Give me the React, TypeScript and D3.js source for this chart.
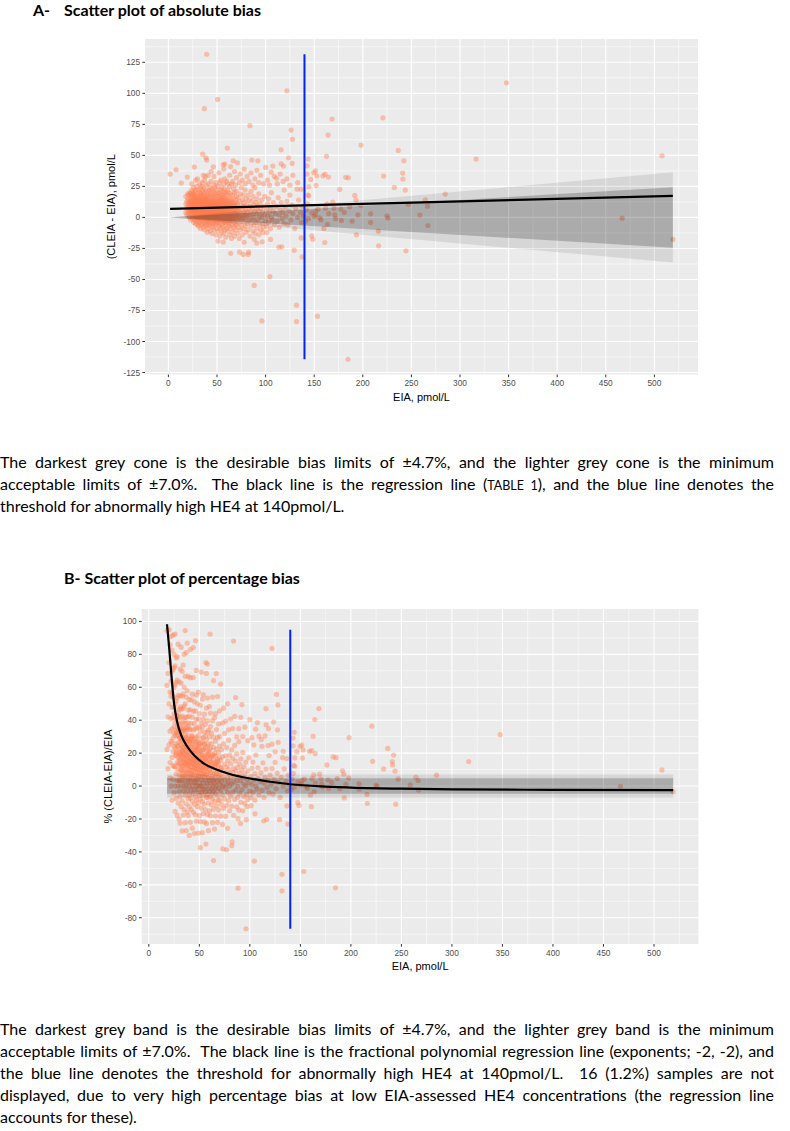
import React, { useLayoutEffect, useRef, useState } from "react";
import * as d3 from "d3";

// samples as [EIA pmol/L, CLEIA - EIA pmol/L]
// the dense cloud at low concentrations
const clusterSamples: [number, number][] = [
  [18, 4], [18, 11], [18, 17], [19, 8], [19, 13], [19, 2], [20, 10], [20, 15], [20, 5], [20, 19], [21, 7], [21, 12],
  [21, 3], [21, 18], [22, 0], [22, 6], [22, 9], [22, 14], [22, 20], [23, -2], [23, 4], [23, 8], [23, 11], [23, 16],
  [23, 19], [24, 1], [24, 5], [24, 7], [24, 10], [24, 13], [24, 17], [24, 22], [25, -1], [25, 3], [25, 6], [25, 9],
  [25, 12], [25, 15], [25, 18], [25, 20], [21, 1], [22, 12], [23, 13], [24, 3], [25, 8], [25, 11], [23, 6],
  [26, -4], [26, 0], [26, 3], [26, 6], [26, 8], [26, 10], [26, 13], [26, 16], [26, 19], [26, 24],
  [27, -2], [27, 2], [27, 5], [27, 7], [27, 9], [27, 11], [27, 14], [27, 17], [27, 21], [27, 5.5],
  [28, -5], [28, 1], [28, 4], [28, 6], [28, 8.5], [28, 10], [28, 12], [28, 15], [28, 18], [28, 22],
  [29, -3], [29, 0], [29, 3], [29, 5], [29, 7], [29, 9], [29, 11], [29, 13], [29, 16], [29, 25],
  [30, -6], [30, -1], [30, 2], [30, 4], [30, 6], [30, 8], [30, 10], [30, 12], [30, 14], [30, 19],
  [31, -7], [31, -2], [31, 1], [31, 3], [31, 5], [31, 7], [31, 9], [31, 11], [31, 13], [31, 17], [31, 22], [31, 6],
  [32, -4], [32, 0], [32, 2], [32, 4], [32, 6], [32, 8], [32, 10], [32, 12], [32, 15], [32, 20], [32, 27], [32, 9],
  [33, -9], [33, -3], [33, 1], [33, 3], [33, 5], [33, 7], [33, 9], [33, 11], [33, 14], [33, 18], [33, 23], [33, 4],
  [34, -6], [34, -1], [34, 2], [34, 4], [34, 6], [34, 8], [34, 10], [34, 13], [34, 16], [34, 19], [34, 25], [34, 7],
  [35, -5], [35, 0], [35, 3], [35, 5], [35, 7], [35, 9], [35, 12], [35, 14], [35, 17], [35, 21], [35, 28], [35, 10],
  [36, -8], [36, -2], [36, 1], [36, 4], [36, 6], [36, 8], [36, 10], [36, 12], [36, 15], [36, 18], [36, 24], [36, 5],
  [37, -10], [37, -4], [37, 0], [37, 3], [37, 5], [37, 7], [37, 9], [37, 11], [37, 14], [37, 20], [37, 30], [37, 8],
  [38, -6], [38, -1], [38, 2], [38, 4], [38, 6], [38, 9], [38, 11], [38, 13], [38, 16], [38, 22], [38, 33], [38, 7],
  [39, -7], [39, -3], [39, 1], [39, 3], [39, 5], [39, 8], [39, 10], [39, 12], [39, 15], [39, 18], [39, 26], [39, 6],
  [40, -12], [40, -5], [40, 0], [40, 2], [40, 4], [40, 6], [40, 9], [40, 11], [40, 14], [40, 17], [40, 21], [40, 8],
  [41, -9], [41, -3], [41, 1], [41, 4], [41, 6], [41, 8], [41, 11], [41, 14], [41, 19], [41, 27], [41, 7],
  [42, -6], [42, -1], [42, 2], [42, 5], [42, 7], [42, 10], [42, 12], [42, 16], [42, 22], [42, 3], [42, 9],
  [43, -11], [43, -4], [43, 0], [43, 3], [43, 6], [43, 8], [43, 11], [43, 13], [43, 18], [43, 24], [43, 5],
  [44, -7], [44, -2], [44, 2], [44, 4], [44, 7], [44, 9], [44, 12], [44, 15], [44, 20], [44, 29], [44, 6],
  [45, -13], [45, -5], [45, -1], [45, 3], [45, 5], [45, 8], [45, 10], [45, 13], [45, 17], [45, 23], [45, 7],
  [46, -8], [46, -3], [46, 1], [46, 4], [46, 7], [46, 9], [46, 12], [46, 16], [46, 21], [46, 6],
  [47, -10], [47, -4], [47, 0], [47, 3], [47, 5], [47, 8], [47, 11], [47, 14], [47, 19], [47, 26],
  [48, -6], [48, -1], [48, 2], [48, 5], [48, 7], [48, 10], [48, 13], [48, 17], [48, 24], [48, 4],
  [49, -14], [49, -5], [49, 0], [49, 3], [49, 6], [49, 9], [49, 12], [49, 15], [49, 20], [49, 8],
  [50, -9], [50, -3], [50, 1], [50, 4], [50, 7], [50, 10], [50, 13], [50, 18], [50, 22], [50, 5],
  [51, -11], [51, -4], [51, 0], [51, 3], [51, 6], [51, 9], [51, 13], [51, 17], [51, 25],
  [52, -7], [52, -2], [52, 2], [52, 5], [52, 8], [52, 11], [52, 15], [52, 20], [52, 7],
  [53, -15], [53, -5], [53, -1], [53, 3], [53, 6], [53, 10], [53, 14], [53, 19], [53, 28],
  [54, -9], [54, -3], [54, 1], [54, 4], [54, 8], [54, 12], [54, 16], [54, 22], [54, 6],
  [55, -12], [55, -6], [55, -1], [55, 3], [55, 7], [55, 10], [55, 14], [55, 18], [55, 24],
  [56, -8], [56, -2], [56, 2], [56, 6], [56, 9], [56, 13], [56, 17], [56, 21],
  [57, -13], [57, -4], [57, 0], [57, 4], [57, 8], [57, 12], [57, 16], [57, 27],
  [58, -10], [58, -3], [58, 1], [58, 5], [58, 9], [58, 14], [58, 19], [58, 23],
  [59, -16], [59, -6], [59, -1], [59, 3], [59, 7], [59, 11], [59, 15], [59, 20],
  [60, -9], [60, -2], [60, 2], [60, 6], [60, 10], [60, 13], [60, 18], [60, 29],
  [61, -11], [61, -4], [61, 1], [61, 5], [61, 9], [61, 14], [61, 22],
  [62, -7], [62, -1], [62, 3], [62, 7], [62, 11], [62, 16], [62, 20],
  [63, -14], [63, -5], [63, 0], [63, 4], [63, 8], [63, 12], [63, 25],
  [64, -9], [64, -2], [64, 2], [64, 6], [64, 10], [64, 15], [64, 19],
  [65, -17], [65, -6], [65, 1], [65, 5], [65, 9], [65, 13], [65, 27],
  [66, -12], [66, -3], [66, 3], [66, 8], [66, 12], [66, 18],
  [67, -8], [67, 0], [67, 5], [67, 10], [67, 15], [67, 23],
  [68, -15], [68, -4], [68, 2], [68, 7], [68, 11], [68, 20],
  [69, -10], [69, -1], [69, 4], [69, 9], [69, 14], [69, 26],
  [70, -6], [70, 1], [70, 6], [70, 12], [70, 17], [70, 21],
  [71, -13], [71, -2], [71, 5], [71, 11], [72, -8], [72, 2], [72, 8], [72, 16], [73, -17], [73, -4], [73, 4], [73, 13],
  [74, -10], [74, 0], [74, 7], [74, 19], [75, -6], [75, 3], [75, 10], [75, 24], [76, -14], [76, -1], [76, 6], [76, 14],
  [77, -9], [77, 1], [77, 9], [77, 18], [78, -20], [78, -3], [78, 4], [78, 12], [79, -7], [79, 2], [79, 8], [79, 22],
  [80, -12], [80, 0], [80, 6], [80, 15],
  [81, -5], [81, 4], [81, 11], [82, -10], [82, 1], [82, 18], [83, -3], [83, 7], [83, 14], [84, -15], [84, 2], [84, 9],
  [85, -7], [85, 5], [85, 21], [86, -2], [86, 8], [86, 13], [87, -11], [87, 3], [87, 17], [88, -6], [88, 0], [88, 10],
  [89, -13], [89, 5], [89, 24], [90, -4], [90, 7], [90, 12],
  [91, -9], [91, 3], [91, 15], [92, -2], [92, 9], [93, -14], [93, 5], [93, 19], [94, -6], [94, 1], [94, 11],
  [95, -10], [95, 7], [96, 0], [96, 14], [97, -5], [97, 4], [98, -8], [98, 9], [99, 2], [99, 17], [100, -3],
  [101, 6], [101, -7], [102, 11], [102, 1], [103, -4], [103, 15], [104, 4], [105, -9], [105, 8], [106, 20], [106, 0],
  [107, -2], [108, 12], [108, 5], [109, -6], [110, 3],
  [111, 9], [112, -3], [113, 16], [114, 2], [114, -8], [115, 6], [116, 12], [117, -1], [118, 4], [119, 22], [119, -5], [120, 8],
  [121, 1], [122, 13], [123, -6], [124, 5], [125, 18], [126, -2], [127, 10], [128, 3], [130, -9], [131, 7], [133, 0], [134, 14],
  [136, 4], [137, -4], [138, 9], [139, 1], [141, -3], [142, 6], [143, 11], [144, -1],
  [150, 1], [157, -2], [165, 3], [172, -1], [181, 4], [189, -3], [195, 2],
];

// the densest core of the cloud
const coreSamples: [number, number][] = [
  [28.5, 7], [29.5, 4], [30.5, 9], [31.5, 6], [32.5, 3], [33.5, 8], [34.5, 5], [35.5, 11], [36.5, 7], [37.5, 3],
  [38.5, 9], [39.5, 5], [40.5, 7], [41.5, 10], [42.5, 4], [43.5, 7], [44.5, 9], [45.5, 5], [46.5, 8], [47.5, 6],
  [48.5, 11], [49.5, 3], [50.5, 8], [51.5, 5], [52.5, 10], [53.5, 7], [54.5, 4], [55.5, 9], [56.5, 6], [57.5, 11],
  [58.5, 3], [59.5, 8], [29.2, 10], [30.7, 5], [32.2, 11], [33.7, 2], [35.2, 6], [36.7, 13], [38.2, 5], [39.7, 11],
  [41.2, 3], [42.7, 13], [44.2, 6], [45.7, 11], [47.2, 2], [48.7, 7], [50.2, 12], [51.7, 4], [53.2, 9], [54.7, 14],
  [56.2, 4], [57.7, 7], [59.2, 12], [60.7, 5], [62.2, 9], [63.7, 3], [65.2, 8], [66.7, 5], [68.2, 10], [69.7, 3],
  [71.2, 8], [72.7, 0], [26.5, 5], [27.5, 9], [28.2, 12], [29.8, 1], [31.2, 15], [32.8, 7], [34.2, 12], [35.8, 2],
  [37.2, 10], [38.8, 14], [40.2, -2], [41.8, 12], [43.2, 9], [44.8, 1], [46.2, 10], [47.8, 13], [49.2, -2],
  [50.8, 11], [52.2, 0], [53.8, 12], [55.2, 5], [56.8, 10], [58.2, -4], [59.8, 7], [61.2, 11], [62.8, -3],
  [64.2, 12], [65.8, -1], [67.2, 9], [68.8, -6],
];

// the sparser upper layer of the cloud
const upperSamples: [number, number][] = [
  [47, 33], [49, 28], [52, 36], [54, 30], [57, 39], [58, 31], [61, 27], [63, 34], [64, 41], [66, 29], [68, 37],
  [70, 32], [71, 44], [73, 28], [74, 35], [76, 30], [78, 39], [79, 27], [81, 33], [83, 29], [85, 36], [87, 26],
  [89, 31], [91, 38], [93, 28], [95, 34], [98, 27], [102, 30], [104, 26], [109, 33], [112, 27], [115, 35],
  [118, 29], [122, 31], [125, 26], [128, 34], [133, 28], [58, 43], [44, 37], [41, 34], [36, 34], [30, 31],
  [28, 30], [24, 27],
];

// isolated points
const outlierSamples: [number, number][] = [
  [1.8, 34.9], [7.9, 38.4], [13.3, 27.7], [19.5, 32.5], [26.7, 40.6], [35.3, 51], [37, 87.6], [38.7, 48.1],
  [39.4, 131.5], [39.4, 46.2], [46.2, 40.8], [50.7, 95.1], [56.5, 42.4], [60.6, 55.9], [66.7, 45.6], [83.9, 73.9],
  [85.9, 46.2], [92.1, 45.6], [100, 40.3], [105.7, 36.5], [107.5, 41.4], [111.3, 31.5], [116, 54.5], [116, 43.2],
  [118.5, 41.4], [121.9, 102], [123.6, 48.1], [126.3, 70.4], [127.3, 43.5], [127.7, 62.9], [132.4, 22.8],
  [136.6, 22.8], [142.7, 41.6], [142.7, 34.9], [143.4, 18], [143.8, 47], [144.5, 24.7], [144.5, 17.4],
  [146.5, 30.6], [149.6, 36], [151.3, 37.6], [152, 25.8], [152.7, 33.5], [159.1, 33.5], [161.2, 34.7],
  [162.6, 49.2], [164.3, 66.4], [164.7, 32.5], [168.4, 79.3], [163.2, 11], [169.1, 12.3], [170.4, 7.3],
  [176.3, 22.6], [177.3, 6.7], [182.4, 32.3], [185.2, 31.9], [186.5, 8.5], [191.7, 17.7], [193, 14], [197.8, 9.7],
  [198.2, 58.3], [208.1, 2.9], [220.7, 80.3], [221.5, 33.3], [224.8, 1.3], [232.4, 24.2], [236.5, 54], [241, 35.7],
  [241.3, 30.9], [242.3, 45.6], [243.7, 22], [246.8, 10.7], [258.7, 1.9], [264.3, 14.2], [266.6, 9.1],
  [284.8, 18.8], [316.6, 47], [347.8, 108.5], [466.8, -0.6], [507.9, 49.7], [519, -17.7],
  [51, -19.1], [56.5, -19.9], [64.1, -29], [73.3, -28], [77, -29.8], [82.1, -29.8], [82.5, -28], [88.3, -17.5],
  [90.8, -20.7], [96.5, -19.7], [97.2, -12.1], [101.3, -12.1], [104.4, -47.6], [88.3, -54.8], [96.2, -83.4],
  [131.8, -70.7], [131.8, -83.9], [153.4, -79.6], [184.8, -114.3], [129.4, -26.4], [113.7, -24], [116.7, -23.7],
  [105.1, -17.7], [137.6, -31.8], [136.6, -16.5], [147.5, -14.8], [148.6, -17.5], [160.9, -20.2], [193.4, -14],
  [216.3, -22.9], [216, -11.1], [208.1, -4], [163.7, -5.6], [178, -2.4], [151.3, 2.1], [225.9, -0.5],
  [266.9, -6.5], [244.4, -26.9], [159.9, -8.9], [155.7, -0.3], [171.1, 2.1], [147.5, 3.7], [151.6, 5.3],
  [154, 6.5], [161.6, 7.3],
];

// fitted lines
const absoluteFit: [number, number][] = [[1.8, 6.9], [519, 17.4]];
const percentFit: [number, number][] = [
  [18, 98.3], [20, 85], [22, 70], [25, 50], [28, 39], [32, 31], [38, 24], [45, 18.5], [55, 13.5], [65, 10.5],
  [80, 7.3], [100, 4.6], [120, 2.6], [140, 1.1], [170, -0.2], [200, -0.9], [250, -1.6], [300, -2], [400, -2.3], [519, -2.5],
];

const desirableLimit = 4.7; // %
const acceptableLimit = 7.0; // %
const highThreshold = 140; // pmol/L

const xTicks = [0, 50, 100, 150, 200, 250, 300, 350, 400, 450, 500];
const absYTicks = [-125, -100, -75, -50, -25, 0, 25, 50, 75, 100, 125];
const pctYTicks = [-80, -60, -40, -20, 0, 20, 40, 60, 80, 100];

const allSamples = [...clusterSamples, ...coreSamples, ...upperSamples, ...outlierSamples];
const percentSamples: [number, number][] = allSamples
  .map(([e, d]) => [e, (d / e) * 100] as [number, number])
  .filter(([e, p]) => e >= 18 && p <= 100);

const AXIS_FONT = "'Liberation Sans', Arial, sans-serif";
const TEXT_FONT = "Lato, 'Open Sans', sans-serif";

const expand = ([a, b]: [number, number]): [number, number] => {
  const pad = (b - a) * 0.05;
  return [a - pad, b + pad];
};

const minorBreaks = (ticks: number[], dom: [number, number]) => {
  const step = ticks[1] - ticks[0];
  const out: number[] = [];
  for (let i = -1; i < ticks.length; i++) {
    const v = ticks[0] + step * (i + 0.5);
    if (v >= dom[0] && v <= dom[1]) out.push(v);
  }
  return out;
};

type Box = { left: number; right: number; top: number; bottom: number };

function Panel({ box, points, fit, yTicks, yLabel, shape, smooth }: {
  box: Box; points: [number, number][]; fit: [number, number][]; yTicks: number[];
  yLabel: string; shape: "cone" | "band"; smooth: boolean;
}) {
  const xExt = d3.extent(points, (d) => d[0]) as [number, number];
  const yExt = d3.extent([...points, ...fit], (d) => d[1]) as [number, number];
  const ptExt = d3.extent(points, (d) => d[1]) as [number, number];
  const xDom = expand(xExt);
  const yDom = expand(yExt);
  const x = d3.scaleLinear().domain(xDom).range([box.left, box.right]);
  const y = d3.scaleLinear().domain(yDom).range([box.bottom, box.top]);

  const [x0, x1] = xExt;
  const limitPoly = (p: number): [number, number][] =>
    shape === "cone"
      ? [[x0, (x0 * p) / 100], [x1, (x1 * p) / 100], [x1, (-x1 * p) / 100], [x0, (-x0 * p) / 100]]
      : [[x0, p], [x1, p], [x1, -p], [x0, -p]];
  const poly = (pts: [number, number][]) =>
    pts.map(([a, b]) => `${x(a)},${y(b)}`).join(" ");

  const line = d3
    .line<[number, number]>()
    .x((d) => x(d[0]))
    .y((d) => y(d[1]))
    .curve(smooth ? d3.curveMonotoneX : d3.curveLinear);

  const cx = (box.left + box.right) / 2;
  const cy = (box.top + box.bottom) / 2;

  return (
    <g>
      <rect x={box.left} y={box.top} width={box.right - box.left} height={box.bottom - box.top} fill="#EBEBEB" />
      {minorBreaks(xTicks, xDom).map((v) => (
        <line key={"mx" + v} x1={x(v)} x2={x(v)} y1={box.top} y2={box.bottom} stroke="#fff" strokeWidth={0.55} />
      ))}
      {minorBreaks(yTicks, yDom).map((v) => (
        <line key={"my" + v} x1={box.left} x2={box.right} y1={y(v)} y2={y(v)} stroke="#fff" strokeWidth={0.55} />
      ))}
      {xTicks.map((v) => (
        <line key={"gx" + v} x1={x(v)} x2={x(v)} y1={box.top} y2={box.bottom} stroke="#fff" strokeWidth={1.1} />
      ))}
      {yTicks.map((v) => (
        <line key={"gy" + v} x1={box.left} x2={box.right} y1={y(v)} y2={y(v)} stroke="#fff" strokeWidth={1.1} />
      ))}

      {points.map((d, i) => (
        <circle key={i} cx={x(d[0])} cy={y(d[1])} r={2.6} fill="#FF7F50" fillOpacity={0.42} />
      ))}

      <polygon points={poly(limitPoly(acceptableLimit))} fill="#000" fillOpacity={0.085} />
      <polygon points={poly(limitPoly(desirableLimit))} fill="#000" fillOpacity={0.2} />

      <line x1={x(highThreshold)} x2={x(highThreshold)} y1={y(ptExt[0])} y2={y(ptExt[1])} stroke="#0022FF" strokeWidth={2} />
      <path d={line(fit) ?? ""} fill="none" stroke="#000" strokeWidth={2.2} />

      {xTicks.map((v) => (
        <g key={"tx" + v}>
          <line x1={x(v)} x2={x(v)} y1={box.bottom} y2={box.bottom + 2.7} stroke="#333" strokeWidth={1} />
          <text x={x(v)} y={box.bottom + 11.5} textAnchor="middle" fontSize={8.3} fill="#4D4D4D" fontFamily={AXIS_FONT}>
            {v}
          </text>
        </g>
      ))}
      {yTicks.map((v) => (
        <g key={"ty" + v}>
          <line x1={box.left - 2.7} x2={box.left} y1={y(v)} y2={y(v)} stroke="#333" strokeWidth={1} />
          <text x={box.left - 5} y={y(v) + 3} textAnchor="end" fontSize={8.3} fill="#4D4D4D" fontFamily={AXIS_FONT}>
            {v}
          </text>
        </g>
      ))}
      <text x={cx} y={box.bottom + 26} textAnchor="middle" fontSize={11} fontFamily={AXIS_FONT} fill="#000">
        EIA, pmol/L
      </text>
      <text transform={`translate(${box.left - 30},${cy}) rotate(-90)`} textAnchor="middle" fontSize={11} fontFamily={AXIS_FONT} fill="#000">
        {yLabel}
      </text>
    </g>
  );
}

function TextLine({ x, y, width, justify, children }: {
  x: number; y: number; width: number; justify: boolean; children: React.ReactNode;
}) {
  const ref = useRef<SVGTextElement>(null);
  const [spacing, setSpacing] = useState(0);
  useLayoutEffect(() => {
    if (!justify || !ref.current) return;
    const natural = ref.current.getComputedTextLength();
    const gaps = (ref.current.textContent || "").split(" ").length - 1;
    if (gaps > 0) setSpacing((width - natural) / gaps);
  }, [justify, width]);
  return (
    <text ref={ref} x={x} y={y} fontFamily={TEXT_FONT} fontSize={16} fill="#000"
      style={{ whiteSpace: "pre", wordSpacing: spacing }}>
      {children}
    </text>
  );
}

const paragraphA = [
  "The darkest grey cone is the desirable bias limits of ±4.7%, and the lighter grey cone is the minimum",
  "acceptable limits of ±7.0%.  The black line is the regression line (",
  "threshold for abnormally high HE4 at 140pmol/L.",
];
const paragraphB = [
  "The darkest grey band is the desirable bias limits of ±4.7%, and the lighter grey band is the minimum",
  "acceptable limits of ±7.0%.  The black line is the fractional polynomial regression line (exponents; -2, -2), and",
  "the blue line denotes the threshold for abnormally high HE4 at 140pmol/L.  16 (1.2%) samples are not",
  "displayed, due to very high percentage bias at low EIA-assessed HE4 concentrations (the regression line",
  "accounts for these).",
];

export default function App() {
  const W = 790;
  const H = 1131;
  const textWidth = 774;
  return (
    <svg width={W} height={H} style={{ position: "absolute", left: 0, top: 0, background: "#fff" }}>
      <text y={16} fontFamily={TEXT_FONT} fontWeight={700} fontSize={16} fill="#000">
        <tspan x={33}>A-</tspan>
        <tspan x={64}>Scatter plot of absolute bias</tspan>
      </text>
      <Panel box={{ left: 145, right: 698, top: 39, bottom: 374.5 }} points={allSamples} fit={absoluteFit}
        yTicks={absYTicks} yLabel="(CLEIA - EIA), pmol/L" shape="cone" smooth={false} />

      <TextLine x={0} y={468} width={textWidth} justify>{paragraphA[0]}</TextLine>
      <TextLine x={0} y={490} width={textWidth} justify>
        {paragraphA[1]}
        <tspan fontSize={12.5}>TABLE 1</tspan>
        {"), and the blue line denotes the"}
      </TextLine>
      <TextLine x={0} y={512} width={textWidth} justify={false}>{paragraphA[2]}</TextLine>

      <text x={64} y={584} fontFamily={TEXT_FONT} fontWeight={700} fontSize={16} fill="#000">
        B- Scatter plot of percentage bias
      </text>
      <Panel box={{ left: 141.7, right: 698.5, top: 609, bottom: 944 }} points={percentSamples} fit={percentFit}
        yTicks={pctYTicks} yLabel="% (CLEIA-EIA)/EIA" shape="band" smooth />

      {paragraphB.map((t, i) => (
        <TextLine key={i} x={0} y={1035 + i * 22} width={textWidth} justify={i < paragraphB.length - 1}>
          {t}
        </TextLine>
      ))}
    </svg>
  );
}
